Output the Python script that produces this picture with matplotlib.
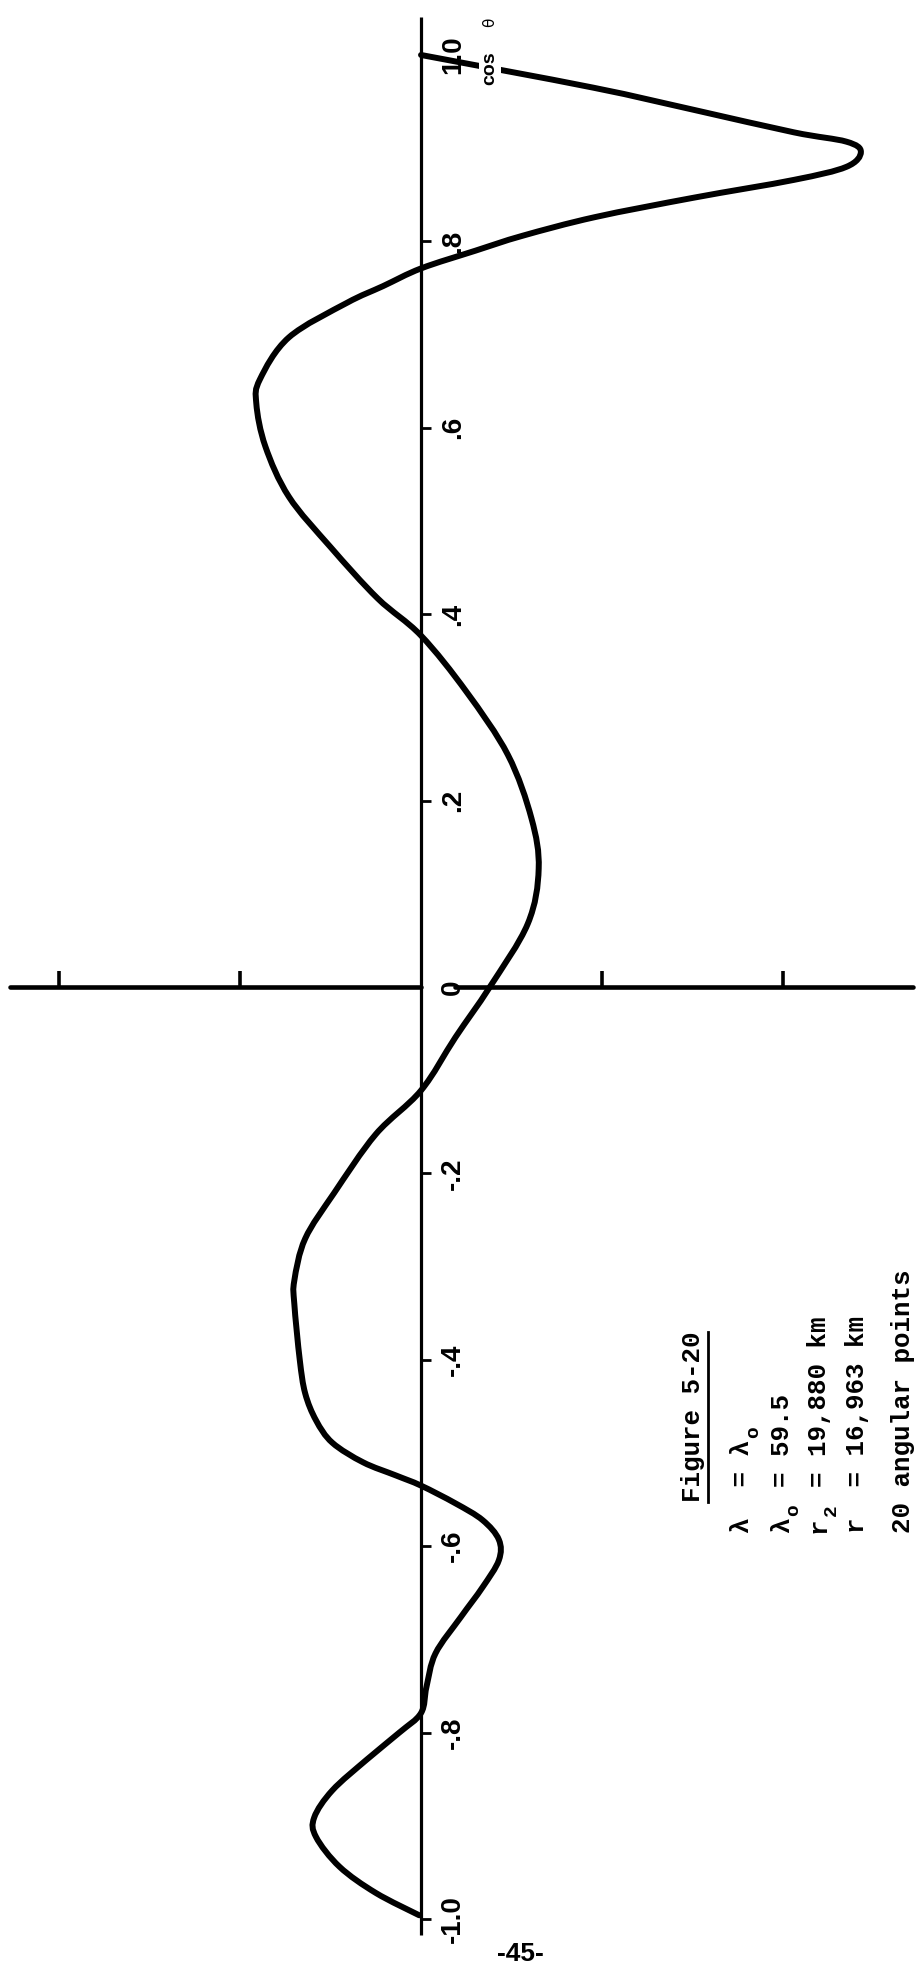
import matplotlib
matplotlib.use("Agg")
import matplotlib.pyplot as plt
from matplotlib.path import Path
from matplotlib.patches import PathPatch

# page size in pixels
W, H = 919, 1967

# curve: cos(theta) going down the page, value in tick units
# (positive value = left of the cos axis, one tick = 1 unit)
cos_pts = [1.000, 0.965, 0.941, 0.917, 0.907, 0.896, 0.880, 0.866, 0.847, 0.826,
           0.806, 0.790, 0.771, 0.752, 0.734, 0.697, 0.652, 0.626, 0.580, 0.526,
           0.472, 0.417, 0.377, 0.317, 0.249, 0.181, 0.127, 0.068, 0.000, -0.054,
           -0.111, -0.158, -0.221, -0.270, -0.315, -0.340, -0.400, -0.436, -0.465, -0.489,
           -0.510, -0.524, -0.535, -0.554, -0.572, -0.593, -0.615, -0.644, -0.676, -0.715,
           -0.751, -0.779, -0.800, -0.829, -0.862, -0.891, -0.912, -0.944, -0.972, -0.996]
val_pts = [0.00, -0.95, -1.51, -2.06, -2.35, -2.43, -2.35, -2.06, -1.51, -0.96,
           -0.56, -0.30, 0.00, 0.21, 0.41, 0.73, 0.89, 0.91, 0.86, 0.73,
           0.50, 0.24, 0.00, -0.25, -0.48, -0.61, -0.65, -0.59, -0.38, -0.19,
           0.00, 0.25, 0.48, 0.64, 0.70, 0.70, 0.67, 0.64, 0.58, 0.49,
           0.32, 0.14, 0.00, -0.19, -0.34, -0.43, -0.43, -0.34, -0.22, -0.08,
           -0.03, 0.00, 0.12, 0.30, 0.49, 0.59, 0.58, 0.45, 0.25, 0.01]

cos_ticks = [-1.0, -0.8, -0.6, -0.4, -0.2, 0.0, 0.2, 0.4, 0.6, 0.8, 1.0]
cos_labels = ["-1.0", "-.8", "-.6", "-.4", "-.2", "0", ".2", ".4", ".6", ".8", "1.0"]
val_ticks = [2, 1, -1, -2]

caption = "Figure 5-20"
# (text, index of subscript char, subscript) - typewriter columns
info_lines = [
    ("λ  = λ", 6, "o"),
    ("λ  = 59.5", 1, "o"),
    ("r  = 19,880 km", 1, "2"),
    ("r  = 16,963 km", None, None),
    ("20 angular points", None, None),
]
info_x = [742, 782, 819, 857, 903]
page_no = "-45-"

fig = plt.figure(figsize=(W / 100, H / 100), dpi=100)
fig.patch.set_facecolor("white")
ax = fig.add_axes([0, 0, 1, 1])
ax.set_xlim(2.326, -2.751)
ax.set_ylim(-1.0515, 1.059)
ax.axis("off")

def px(x, y):
    # page pixel -> figure fraction
    return x / W, 1 - y / H

# cos theta axis (vertical on the page)
ax.plot([0, 0], [1.041, -1.017], color="black", lw=2.3, solid_capstyle="butt")
for t in cos_ticks:
    if t == 0.0:
        continue
    ax.plot([0, -0.055], [t, t], color="black", lw=2.0, solid_capstyle="butt")
for t, lab in zip(cos_ticks, cos_labels):
    ax.text(-0.105, t, lab, rotation=90, ha="left", va="center",
            fontsize=20, fontweight="bold", family="Liberation Sans")

# value axis (horizontal on the page), broken around the "0" label
ax.plot([2.27, 0], [0, 0], color="black", lw=3.3, solid_capstyle="round")
ax.plot([-0.19, -2.72], [0, 0], color="black", lw=3.3, solid_capstyle="round")
for v in val_ticks:
    ax.plot([v, v], [0, 0.017], color="black", lw=2.6, solid_capstyle="butt")

# the curve, drawn as a smooth bezier path through the read points
pts = list(zip(val_pts, cos_pts))
verts = [pts[0]]
codes = [Path.MOVETO]
for i in range(len(pts) - 1):
    p0 = pts[max(i - 1, 0)]
    p1 = pts[i]
    p2 = pts[i + 1]
    p3 = pts[min(i + 2, len(pts) - 1)]
    c1 = (p1[0] + (p2[0] - p0[0]) / 6, p1[1] + (p2[1] - p0[1]) / 6)
    c2 = (p2[0] - (p3[0] - p1[0]) / 6, p2[1] - (p3[1] - p1[1]) / 6)
    verts += [c1, c2, p2]
    codes += [Path.CURVE4] * 3
ax.add_patch(PathPatch(Path(verts, codes), fill=False, edgecolor="black",
                       lw=4.3, capstyle="round", joinstyle="round"))

# axis name, the curve is broken under "cos"
fig.text(*px(490, 68), "cos", rotation=90, ha="center", va="center",
         fontsize=14, fontweight="bold", family="Liberation Sans",
         bbox=dict(facecolor="white", edgecolor="none", pad=1.5))
fig.text(*px(490, 22), "θ", rotation=90, ha="center", va="center",
         fontsize=11, family="DejaVu Sans")

# caption block, typewriter style
mono = ["Liberation Mono", "DejaVu Sans Mono"]
adv = 15.5
y0 = 1533
fig.text(*px(693, 1502), caption, rotation=90, ha="center", va="bottom",
         fontsize=18.6, fontweight="bold", family=mono)
ax.plot(*zip(*[ax.transData.inverted().transform((708, H - 1502)),
               ax.transData.inverted().transform((708, H - 1502 + 11 * adv))]),
        color="black", lw=2.0)

def type_at(x, col, s):
    # put a piece of typewriter text starting at character column col
    s2 = s.lstrip(" ")
    col += len(s) - len(s2)
    if s2:
        fig.text(*px(x, y0 - col * adv), s2, rotation=90, ha="center",
                 va="bottom", fontsize=18.6, fontweight="bold", family=mono)

for (txt, si, sub), x in zip(info_lines, info_x):
    if sub is None:
        type_at(x, 0, txt)
        continue
    type_at(x, 0, txt[:si])
    type_at(x, si + 1, txt[si + 1:])
    fig.text(*px(x + 12, y0 - (si + 0.5) * adv), sub, rotation=90,
             ha="center", va="center", fontsize=14, fontweight="bold",
             family=mono)

fig.text(*px(520, 1966), page_no, ha="center", va="bottom",
         fontsize=19, fontweight="bold", family="Liberation Sans")

fig.savefig("out.png", dpi=100, facecolor="white")
